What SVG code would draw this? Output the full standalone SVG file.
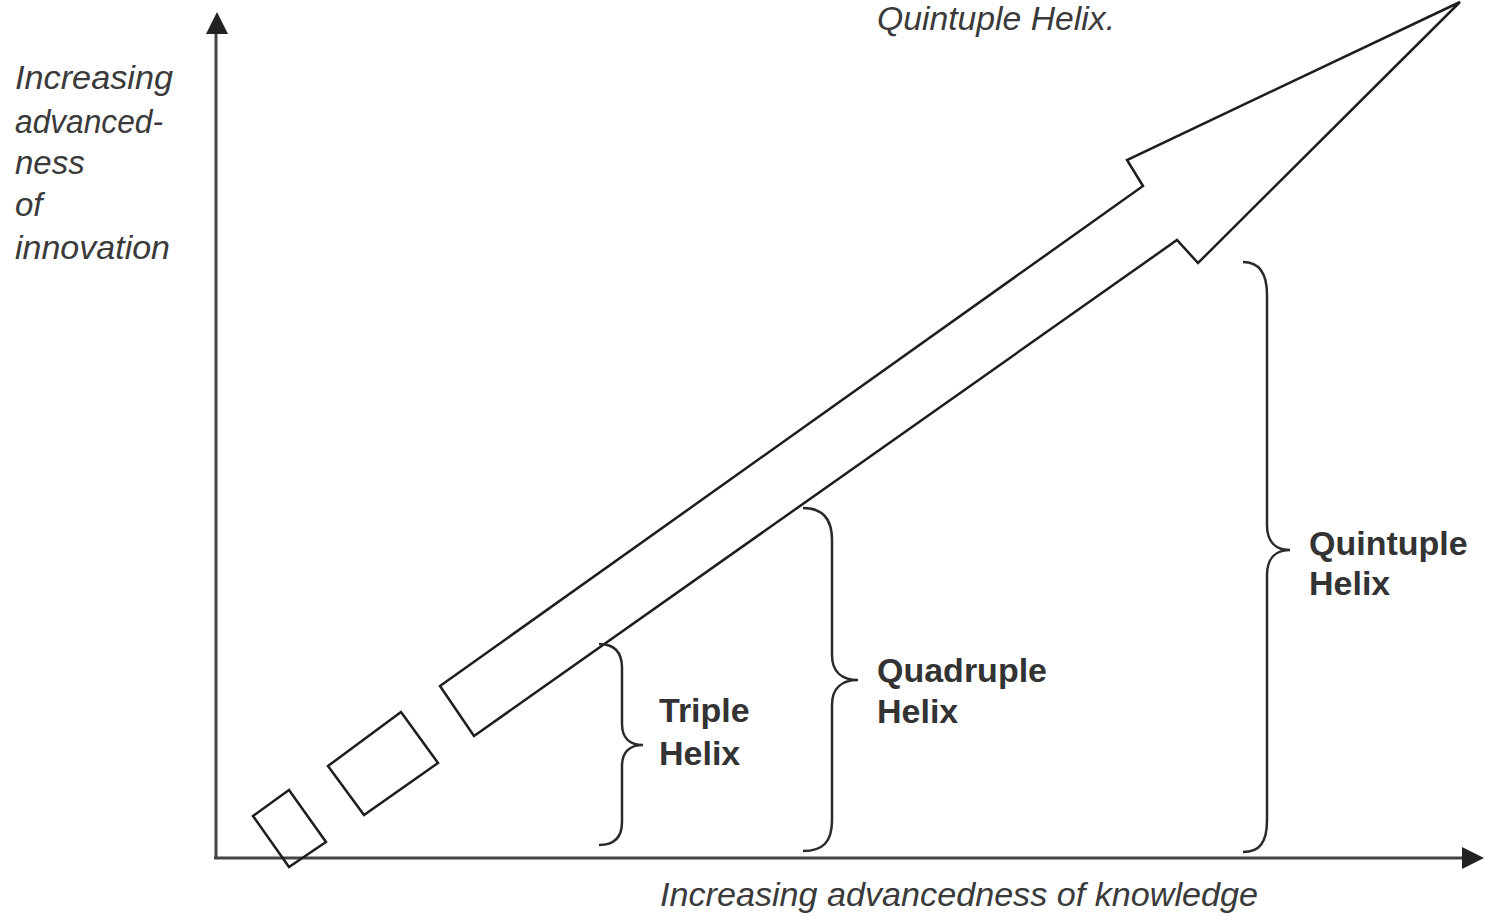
<svg xmlns="http://www.w3.org/2000/svg" width="1485" height="916" viewBox="0 0 1485 916">
<style>
.ax{stroke:#444;stroke-width:3;fill:none}
.sh{stroke:#1e1e1e;stroke-width:2.5;fill:none;stroke-linejoin:miter}
.br{stroke:#2a2a2a;stroke-width:2.5;fill:none}
.it{font-family:"Liberation Sans",Arial,sans-serif;font-style:italic;font-size:33px;fill:#3a3a3a}
.bd{font-family:"Liberation Sans",Arial,sans-serif;font-weight:bold;font-size:34px;fill:#333}
</style>
<rect width="1485" height="916" fill="#fff"/>
<g id="connectors">
<line class="ax" x1="216" y1="858" x2="216" y2="30"/>
<path d="M206,34 L217,12 L228,34 z" fill="#222"/>
<line class="ax" x1="214" y1="858" x2="1465" y2="858"/>
<path d="M1462,847 L1484,858 L1462,869 z" fill="#222"/>
</g>
<g id="arrow">
<polygon class="sh" points="440,686 1143,186 1127,160 1460,2 1198,263 1177,240 474,736"/>
<polygon class="sh" points="328,766 401,712 438,763 364,815"/>
<polygon class="sh" points="253,816 289,790 326,842 289,867"/>
</g>
<g id="triple">
<path class="br" d="M599,644 C614,644 622,652 622,668 L622,724 C622,738 630,745 643,745 C630,745 622,752 622,766 L622,822 C622,838 614,845 599,845"/>
<text class="bd" x="659" y="722">Triple</text>
<text class="bd" x="659" y="765">Helix</text>
</g>
<g id="quadruple">
<path class="br" d="M803,508 C823,508 832,520 832,540 L832,655 C832,672 842,680 858,680 C842,680 832,688 832,705 L832,820 C832,842 823,851 803,851"/>
<text class="bd" x="877" y="682">Quadruple</text>
<text class="bd" x="877" y="723">Helix</text>
</g>
<g id="quintuple">
<path class="br" d="M1243,262 C1260,262 1267,275 1267,295 L1267,525 C1267,542 1276,550 1290,550 C1276,550 1267,558 1267,575 L1267,820 C1267,842 1260,852 1243,852"/>
<text class="bd" x="1309" y="555">Quintuple</text>
<text class="bd" x="1309" y="595">Helix</text>
</g>
<g id="labels">
<text class="it" x="877" y="30" textLength="238" lengthAdjust="spacingAndGlyphs">Quintuple Helix.</text>
<text class="it" x="15" y="89" textLength="158" lengthAdjust="spacingAndGlyphs">Increasing</text>
<text class="it" x="15" y="133" textLength="148" lengthAdjust="spacingAndGlyphs">advanced-</text>
<text class="it" x="15" y="174">ness</text>
<text class="it" x="15" y="216">of</text>
<text class="it" x="15" y="259" textLength="155" lengthAdjust="spacingAndGlyphs">innovation</text>
<text class="it" x="660" y="906" textLength="598" lengthAdjust="spacingAndGlyphs">Increasing advancedness of knowledge</text>
</g>
</svg>
